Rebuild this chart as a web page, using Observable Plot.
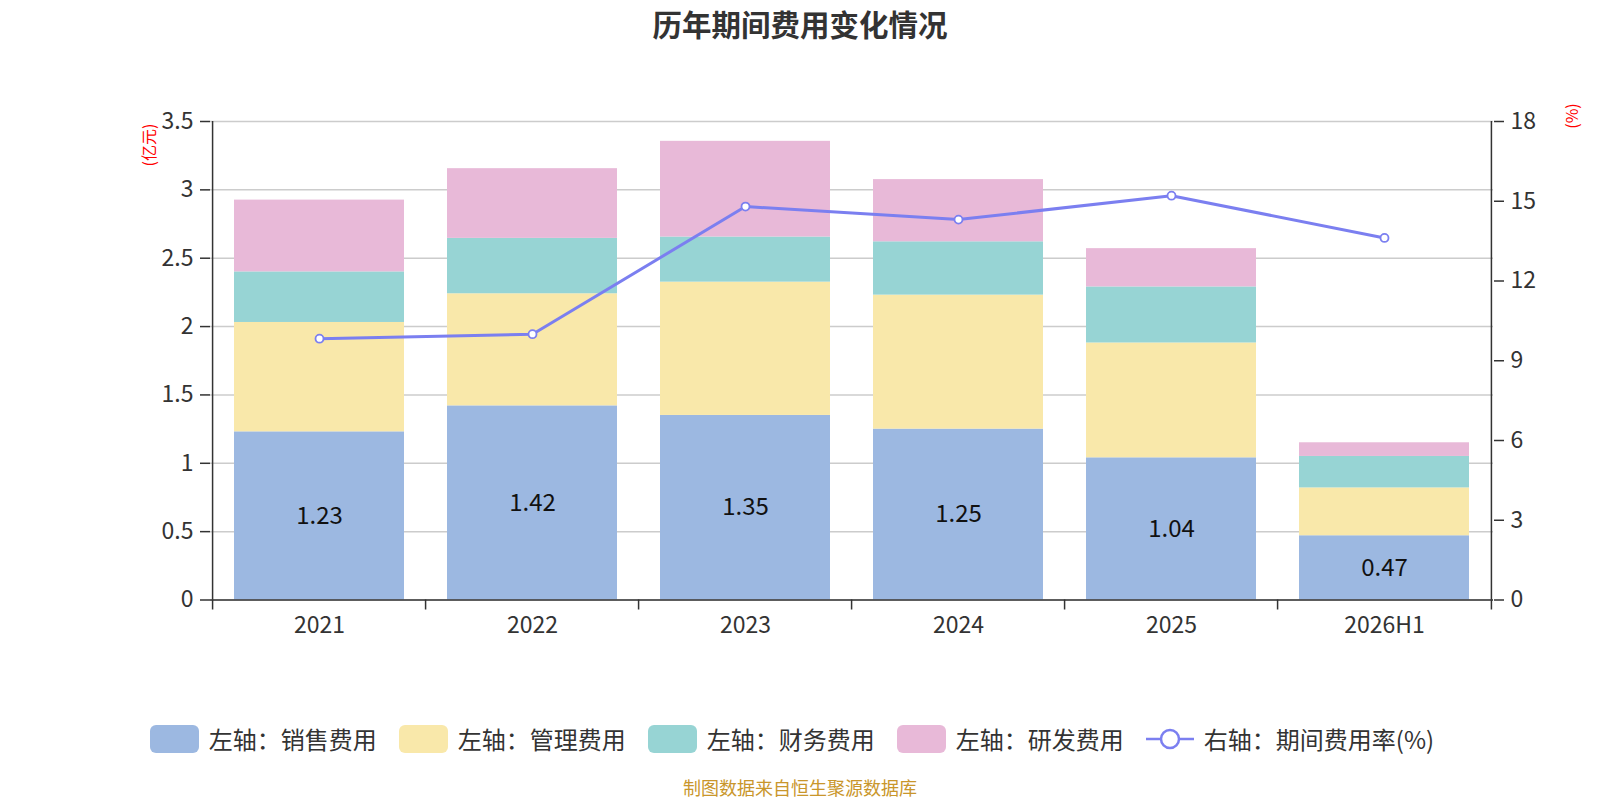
<!DOCTYPE html>
<html>
<head>
<meta charset="utf-8">
<script src="https://cdn.jsdelivr.net/npm/d3@7"></script>
<script src="https://cdn.jsdelivr.net/npm/@observablehq/plot@0.6"></script>
<style>
  html, body { margin: 0; padding: 0; background: #fff; }
  body { font-family: "Noto Sans CJK SC", "Noto Sans", sans-serif; }
  #wrap { position: relative; width: 1600px; height: 800px; overflow: hidden; }
  #title { position: absolute; top: 2px; left: 0; width: 1600px; text-align: center;
           font-size: 29.5px; font-weight: bold; color: #333; line-height: 42px; }
  #chart { position: absolute; top: 0; left: 0; }
  .unit { position: absolute; color: #ff0000; font-size: 16px; white-space: nowrap;
          transform: translate(-50%, -50%) rotate(-90deg); line-height: 16px; }
  #legend { position: absolute; top: 721px; left: 0; width: 1584px; padding-right: 16px; display: flex;
            justify-content: center; align-items: center; font-size: 24px; color: #333; }
  .item { display: flex; align-items: center; margin: 0 11px; }
  .sw { width: 49px; height: 28px; border-radius: 6px; margin-right: 10px; }
  #caption { position: absolute; top: 777px; left: 0; width: 1600px; text-align: center;
             font-size: 18px; color: #c9962b; line-height: 20px; }
</style>
</head>
<body>
<div id="wrap">
  <div id="title"></div>
  <div id="chart"></div>
  <div class="unit" id="unitL" style="left:148px; top:145px;"></div>
  <div class="unit" id="unitR" style="left:1571px; top:116px;"></div>
  <div id="legend"></div>
  <div id="caption"></div>
</div>
<script>
// ---- data ----
const years = ["2021", "2022", "2023", "2024", "2025", "2026H1"];
const sales = [1.23, 1.42, 1.35, 1.25, 1.04, 0.47];   // 销售费用 (亿元)
const admin = [0.80, 0.82, 0.975, 0.98, 0.84, 0.35];  // 管理费用
const finance = [0.37, 0.405, 0.33, 0.39, 0.41, 0.23]; // 财务费用
const rnd = [0.525, 0.51, 0.70, 0.455, 0.28, 0.10];   // 研发费用
const rate = [9.83, 10.0, 14.80, 14.31, 15.21, 13.62]; // 期间费用率 (%)
const seriesNames = ["左轴：销售费用", "左轴：管理费用", "左轴：财务费用", "左轴：研发费用"];
const lineName = "右轴：期间费用率(%)";
const colors = ["#9cb8e1", "#f9e8aa", "#97d4d4", "#e8b9d8"];
const lineColor = "#7b7ff0";
const leftTicks = [0, 0.5, 1, 1.5, 2, 2.5, 3, 3.5];
const rightTicks = [0, 3, 6, 9, 12, 15, 18];
const leftMax = 3.5, rightMax = 18;
const titleText = "历年期间费用变化情况";
const unitLeft = "(亿元)", unitRight = "(%)";
const captionText = "制图数据来自恒生聚源数据库";

// ---- build ----
const seriesValues = [sales, admin, finance, rnd];
const long = [];
years.forEach((y, i) => seriesNames.forEach((s, j) => long.push({year: y, series: s, value: seriesValues[j][i]})));
const k = leftMax / rightMax;
const lineData = years.map((y, i) => ({year: y, r: rate[i], v: rate[i] * k}));
const labelData = years.map((y, i) => ({year: y, v: sales[i]}));

const W = 1600, H = 650, mL = 210, mR = 107, mT = 121, mB = 50.5;
const step = (W - mL - mR) / years.length;

const plot = Plot.plot({
  width: W, height: H,
  marginLeft: mL, marginRight: mR, marginTop: mT, marginBottom: mB,
  style: {fontFamily: '"Noto Sans CJK SC", "Noto Sans", sans-serif', fontSize: "23px", color: "#333", background: "transparent"},
  x: {domain: years, paddingInner: 0.2, paddingOuter: 0.1, label: null},
  y: {domain: [0, leftMax], label: null},
  color: {domain: seriesNames, range: colors},
  marks: [
    Plot.gridY(leftTicks, {stroke: "#cccccc", strokeOpacity: 1, strokeWidth: 1.5}),
    Plot.barY(long, {x: "year", y: "value", fill: "series", order: seriesNames}),
    Plot.text(labelData, {x: "year", y: d => d.v / 2, text: d => d.v.toFixed(2), fill: "#111", fontSize: 24}),
    Plot.line(lineData, {x: "year", y: "v", stroke: lineColor, strokeWidth: 3}),
    Plot.dot(lineData, {x: "year", y: "v", r: 4, fill: "#fff", stroke: lineColor, strokeWidth: 1.8}),
    // axis lines
    Plot.ruleY([0], {stroke: "#333", strokeWidth: 1.5}),
    Plot.ruleX([years[0]], {y1: 0, y2: leftMax, dx: -step / 2, stroke: "#333", strokeWidth: 1.5}),
    Plot.ruleX([years[years.length - 1]], {y1: 0, y2: leftMax, dx: step / 2, stroke: "#333", strokeWidth: 1.5}),
    // x boundary ticks
    Plot.ruleX(years, {y1: 0, y2: 0, insetBottom: -10, dx: -step / 2, stroke: "#333", strokeWidth: 1.5}),
    Plot.ruleX([years[years.length - 1]], {y1: 0, y2: 0, insetBottom: -10, dx: step / 2, stroke: "#333", strokeWidth: 1.5}),
    Plot.axisX({tickSize: 0, tickPadding: 17, fill: "#333"}),
    Plot.axisY(leftTicks, {anchor: "left", tickSize: 10, tickPadding: 7, tickFormat: d => String(d), fill: "#333", stroke: "#333", strokeWidth: 1.5}),
    Plot.axisY(rightTicks.map(t => t * k), {anchor: "right", tickSize: 10, tickPadding: 7,
      tickFormat: d => String(Math.round(d / k)), fill: "#333", stroke: "#333", strokeWidth: 1.5})
  ]
});
document.getElementById("chart").appendChild(plot);

document.getElementById("title").textContent = titleText;
document.getElementById("unitL").textContent = unitLeft;
document.getElementById("unitR").textContent = unitRight;
document.getElementById("caption").textContent = captionText;

const legend = document.getElementById("legend");
seriesNames.forEach((s, j) => {
  const it = document.createElement("div"); it.className = "item";
  const sw = document.createElement("div"); sw.className = "sw"; sw.style.background = colors[j];
  const tx = document.createElement("span"); tx.textContent = s;
  it.appendChild(sw); it.appendChild(tx); legend.appendChild(it);
});
{
  const it = document.createElement("div"); it.className = "item";
  const ns = "http://www.w3.org/2000/svg";
  const svg = document.createElementNS(ns, "svg");
  svg.setAttribute("width", 48); svg.setAttribute("height", 28); svg.style.marginRight = "10px";
  const ln = document.createElementNS(ns, "line");
  ln.setAttribute("x1", 0); ln.setAttribute("x2", 48); ln.setAttribute("y1", 14); ln.setAttribute("y2", 14);
  ln.setAttribute("stroke", lineColor); ln.setAttribute("stroke-width", 2.5);
  const c = document.createElementNS(ns, "circle");
  c.setAttribute("cx", 24); c.setAttribute("cy", 14); c.setAttribute("r", 9);
  c.setAttribute("fill", "#fff"); c.setAttribute("stroke", lineColor); c.setAttribute("stroke-width", 2.5);
  svg.appendChild(ln); svg.appendChild(c);
  const tx = document.createElement("span"); tx.textContent = lineName;
  it.appendChild(svg); it.appendChild(tx); legend.appendChild(it);
}
</script>
</body>
</html>
